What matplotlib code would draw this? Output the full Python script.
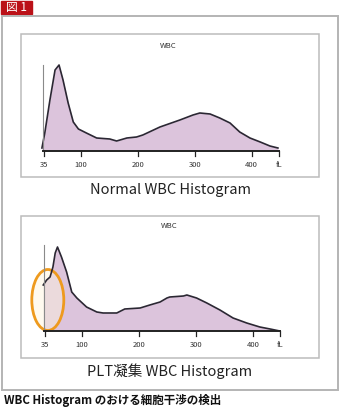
import matplotlib.pyplot as plt
from matplotlib.patches import Rectangle, Ellipse

plt.rcParams['font.family'] = ['Noto Sans CJK JP', 'DejaVu Sans']

# WBC histograms: cell volume (fL) and relative count
normal_fl = [32, 37, 46, 55, 62, 69, 78, 87, 96, 110, 128, 151, 163, 181, 198,
             209, 239, 274, 297, 309, 327, 344, 362, 379, 397, 415, 432, 446]
normal_cnt = [3, 18, 51, 81, 86, 71, 48, 29, 22, 18, 13, 12, 10, 13, 14,
              16, 24, 31, 36, 38, 37, 33, 28, 19, 13, 9, 5, 3]

plt_fl = [32, 38, 44, 49, 53, 57, 64, 73, 82, 91, 108, 126, 137, 161, 175,
          202, 219, 237, 249, 254, 278, 284, 301, 319, 342, 365, 389, 412, 430, 447]
plt_cnt = [46, 51, 54, 64, 78, 84, 74, 59, 39, 33, 24, 19, 18, 18, 22,
           23, 26, 29, 33, 34, 35, 36, 33, 28, 21, 13, 8, 4, 2, 0]

ticks = [35, 100, 200, 300, 400]
tick_labels = ['35', '100', '200', '300', '400']
titles = ['Normal WBC Histogram', 'PLT凝集 WBC Histogram']
caption = 'WBC Histogram のおける細胞干渉の検出'

W, H = 341, 408
fig = plt.figure(figsize=(W / 100, H / 100), dpi=100)

# frames and labels in pixel coordinates
bg = fig.add_axes([0, 0, 1, 1])
bg.set_xlim(0, W)
bg.set_ylim(H, 0)
bg.axis('off')
bg.add_patch(Rectangle((1, 1), 31, 13, color='#bb1118'))
bg.text(16.5, 7.5, '図 1', color='white', fontsize=8.5, ha='center', va='center')
bg.add_patch(Rectangle((1.5, 16), 336.5, 374, fill=False, ec='#b4b4b4', lw=1.4))
for top, bottom in [(34, 177), (216, 358)]:
    bg.add_patch(Rectangle((21, top), 298, bottom - top, fill=False, ec='#bcbcbc', lw=1.1))
bg.text(170, 190, titles[0], fontsize=10.5, ha='center', va='center', color='#222222')
bg.text(170, 371, titles[1], fontsize=10.5, ha='center', va='center', color='#222222')
bg.text(4, 400, caption, fontsize=8.3, fontweight='bold', ha='left', va='center', color='#111111')


def histogram(left_px, base_px, fl, cnt):
    # 100 fL = 57 px, 1 count = 1 px
    x0 = left_px + (20 - 100) * 0.57
    ax = fig.add_axes([x0 / W, (H - base_px) / H, 440 * 0.57 / W, 100 / H])
    ax.set_xlim(20, 460)
    ax.set_ylim(0, 100)
    ax.axis('off')
    ax.fill_between(fl, cnt, 0, color='#dcc4dc', lw=0)
    ax.plot(fl, cnt, color='#2b2733', lw=1.2)
    ax.plot([33, 33], [0, 86], color='#8a8a8a', lw=0.8)
    ax.plot([33, 448], [0, 0], color='#222222', lw=1.4, clip_on=False)
    for t in ticks + [448]:
        ax.plot([t, t], [0, -5], color='#222222', lw=0.9, clip_on=False)
    for t, lab in zip(ticks, tick_labels):
        ax.text(t, -14, lab, fontsize=5.5, ha='center', va='center', color='#333333')
    ax.text(448, -14, 'fL', fontsize=5.5, ha='center', va='center', color='#333333')
    ax.text(253, 105, 'WBC', fontsize=5.5, ha='center', va='center', color='#333333',
            clip_on=False)
    return ax


histogram(80.7, 151, normal_fl, normal_cnt)
ax2 = histogram(82, 331, plt_fl, plt_cnt)

# highlight platelet clumps near the lower threshold
ax2.add_patch(Ellipse((40, 31), 32 / 0.57, 61, fc='#fff6dc', alpha=0.45, ec='none',
                      clip_on=False))
ax2.add_patch(Ellipse((40, 31), 32 / 0.57, 61, fill=False, ec='#ee9a1e', lw=2,
                      clip_on=False))

fig.savefig('out.png', dpi=100)
